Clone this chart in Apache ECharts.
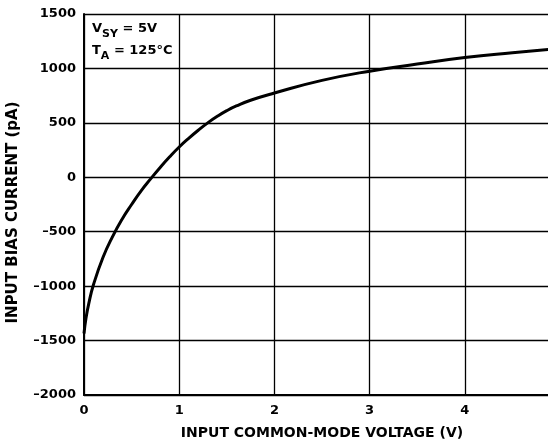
<!DOCTYPE html>
<html>
<head>
<meta charset="utf-8">
<script src="https://cdn.jsdelivr.net/npm/echarts@6/dist/echarts.min.js"></script>
<style>
  html, body { margin: 0; padding: 0; background: #fff; }
  #chart { width: 548px; height: 442px; }
</style>
</head>
<body>
<div id="chart"></div>
<script>
// input common-mode voltage (V) vs input bias current (pA)
const voltage = [0, 0.02, 0.05, 0.1, 0.2, 0.3, 0.4, 0.5, 0.6, 0.7, 0.8, 0.9, 1.0, 1.1, 1.2, 1.3, 1.4, 1.5, 1.6, 1.75, 2.0, 2.5, 3.0, 3.5, 4.0, 4.5, 5.0];
const biasCurrent = [-1435, -1300, -1160, -985, -735, -545, -385, -250, -125, -15, 90, 188, 278, 358, 432, 500, 560, 612, 655, 708, 774, 890, 975, 1040, 1100, 1145, 1185];

const xTicks = [0, 1, 2, 3, 4];
const yTicks = [-2000, -1500, -1000, -500, 0, 500, 1000, 1500];

const font = 'DejaVu Sans, Liberation Sans, sans-serif';
const chart = echarts.init(document.getElementById('chart'));

const option = {
  backgroundColor: '#fff',
  animation: false,
  // plot runs to 5 V, just past the right edge of the picture
  grid: { left: 84, top: 14, right: -12, bottom: 47, containLabel: false, outerBoundsMode: 'none' },
  xAxis: {
    type: 'value',
    min: 0,
    max: 5,
    interval: 1,
    name: 'INPUT COMMON-MODE VOLTAGE (V)',
    nameLocation: 'middle',
    nameGap: 31,
    nameTextStyle: { color: '#000', fontFamily: font, fontWeight: 'bold', fontSize: 14 },
    axisLine: { show: true, onZero: false, lineStyle: { color: '#000', width: 2 } },
    axisTick: { show: false },
    axisLabel: {
      color: '#000', fontFamily: font, fontWeight: 'bold', fontSize: 13, margin: 9,
      formatter: v => xTicks.includes(v) ? String(v) : ''
    },
    splitLine: { show: true, lineStyle: { color: '#000', width: 1.3 } }
  },
  yAxis: {
    type: 'value',
    min: -2000,
    max: 1500,
    interval: 500,
    name: 'INPUT BIAS CURRENT (pA)',
    nameLocation: 'middle',
    nameGap: 63,
    nameTextStyle: { color: '#000', fontFamily: font, fontWeight: 'bold', fontSize: 15, padding: [0, 16, 0, 0] },
    axisLine: { show: true, lineStyle: { color: '#000', width: 2 } },
    axisTick: { show: false },
    axisLabel: {
      color: '#000', fontFamily: font, fontWeight: 'bold', fontSize: 13, margin: 8,
      formatter: v => yTicks.includes(v) ? String(v).replace('-', '\u2013') : ''
    },
    splitLine: { show: true, lineStyle: { color: '#000', width: 1.3 } }
  },
  graphic: [{
    type: 'text',
    left: 92,
    top: 22,
    style: {
      text: '{b|V}{s|SY}{b| = 5V}\n{b|T}{s|A}{b| = 125°C}',
      rich: {
        b: { fontFamily: font, fontWeight: 'bold', fontSize: 13, fill: '#000', lineHeight: 22, verticalAlign: 'bottom' },
        s: { fontFamily: font, fontWeight: 'bold', fontSize: 11, fill: '#000', lineHeight: 22, padding: [0, 0, -5, 0], verticalAlign: 'bottom' }
      }
    }
  }],
  series: [{
    type: 'line',
    data: voltage.map((v, i) => [v, biasCurrent[i]]),
    smooth: 0.5,
    showSymbol: false,
    lineStyle: { color: '#000', width: 3 }
  }]
};

chart.setOption(option);
</script>
</body>
</html>
